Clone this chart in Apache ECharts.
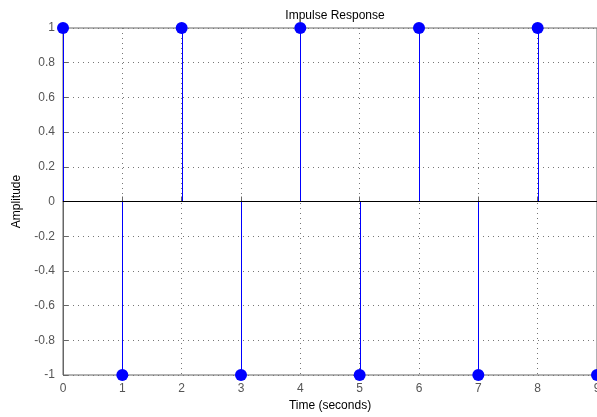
<!DOCTYPE html>
<html><head><meta charset="utf-8">
<script src="https://cdn.jsdelivr.net/npm/echarts@6/dist/echarts.min.js"></script>
<style>html,body{margin:0;padding:0;background:#fff}#c{width:597px;height:417px}</style>
</head><body><div id="c"></div>
<script>
const times = [0,1,2,3,4,5,6,7,8,9];
const amplitude = [1,-1,1,-1,1,-1,1,-1,1,-1];
const xTicks = [0,1,2,3,4,5,6,7,8,9];
const yTicks = [-1,-0.8,-0.6,-0.4,-0.2,0,0.2,0.4,0.6,0.8,1];

const pts = times.map((t,i)=>[t, amplitude[i]]);
const chart = echarts.init(document.getElementById('c'), null, {renderer:'canvas'});
const font = 'Liberation Sans, Arial, sans-serif';
chart.setOption({
  animation:false,
  title:{text:'Impulse Response', left:330, top:5, textAlign:'center',
    textStyle:{fontFamily:font, fontSize:12, fontWeight:'normal', color:'#000'}},
  grid:{left:63, right:0, top:28, bottom:42, outerBoundsMode:'none', containLabel:false,
    show:true, borderColor:'#666', borderWidth:1, backgroundColor:'transparent'},
  xAxis:{type:'value', min:0, max:9, interval:1,
    name:'Time (seconds)', nameLocation:'middle', nameGap:23,
    nameTextStyle:{fontFamily:font, fontSize:12, color:'#000'},
    axisLine:{lineStyle:{color:'#666'}},
    axisTick:{inside:true, length:5, lineStyle:{color:'#666'}},
    axisLabel:{fontFamily:font, fontSize:12, color:'#555', margin:8},
    splitLine:{show:true, lineStyle:{type:[1,4], color:'#777'}}},
  yAxis:{type:'value', min:-1, max:1, interval:0.2,
    name:'Amplitude', nameLocation:'middle', nameGap:40,
    nameTextStyle:{fontFamily:font, fontSize:12, color:'#000'},
    axisLine:{lineStyle:{color:'#666'}},
    axisTick:{inside:true, length:5, lineStyle:{color:'#666'}},
    axisLabel:{fontFamily:font, fontSize:12, color:'#555', margin:8,
      formatter:v=>String(Math.round(v*10)/10)},
    splitLine:{show:true, lineStyle:{type:[1,4], color:'#777'}}},
  series:[
    {type:'custom', data:pts, clip:false, z:3,
      renderItem:(params, api)=>{
        const a = api.coord([api.value(0), 0]);
        const b = api.coord([api.value(0), api.value(1)]);
        const x = Math.round(a[0]) + 0.5;
        return {type:'line', shape:{x1:x,y1:a[1],x2:x,y2:b[1]}, style:{stroke:'#0000ff', lineWidth:1}};
      },
      markLine:{silent:true, symbol:'none', label:{show:false},
        lineStyle:{color:'#000', width:1, type:'solid', opacity:1}, data:[{yAxis:0}]}
    },
    {type:'scatter', data:pts, symbol:'circle', symbolSize:12, clip:false, z:4,
      itemStyle:{color:'#0000ff', opacity:1}}
  ]
});
</script></body></html>
